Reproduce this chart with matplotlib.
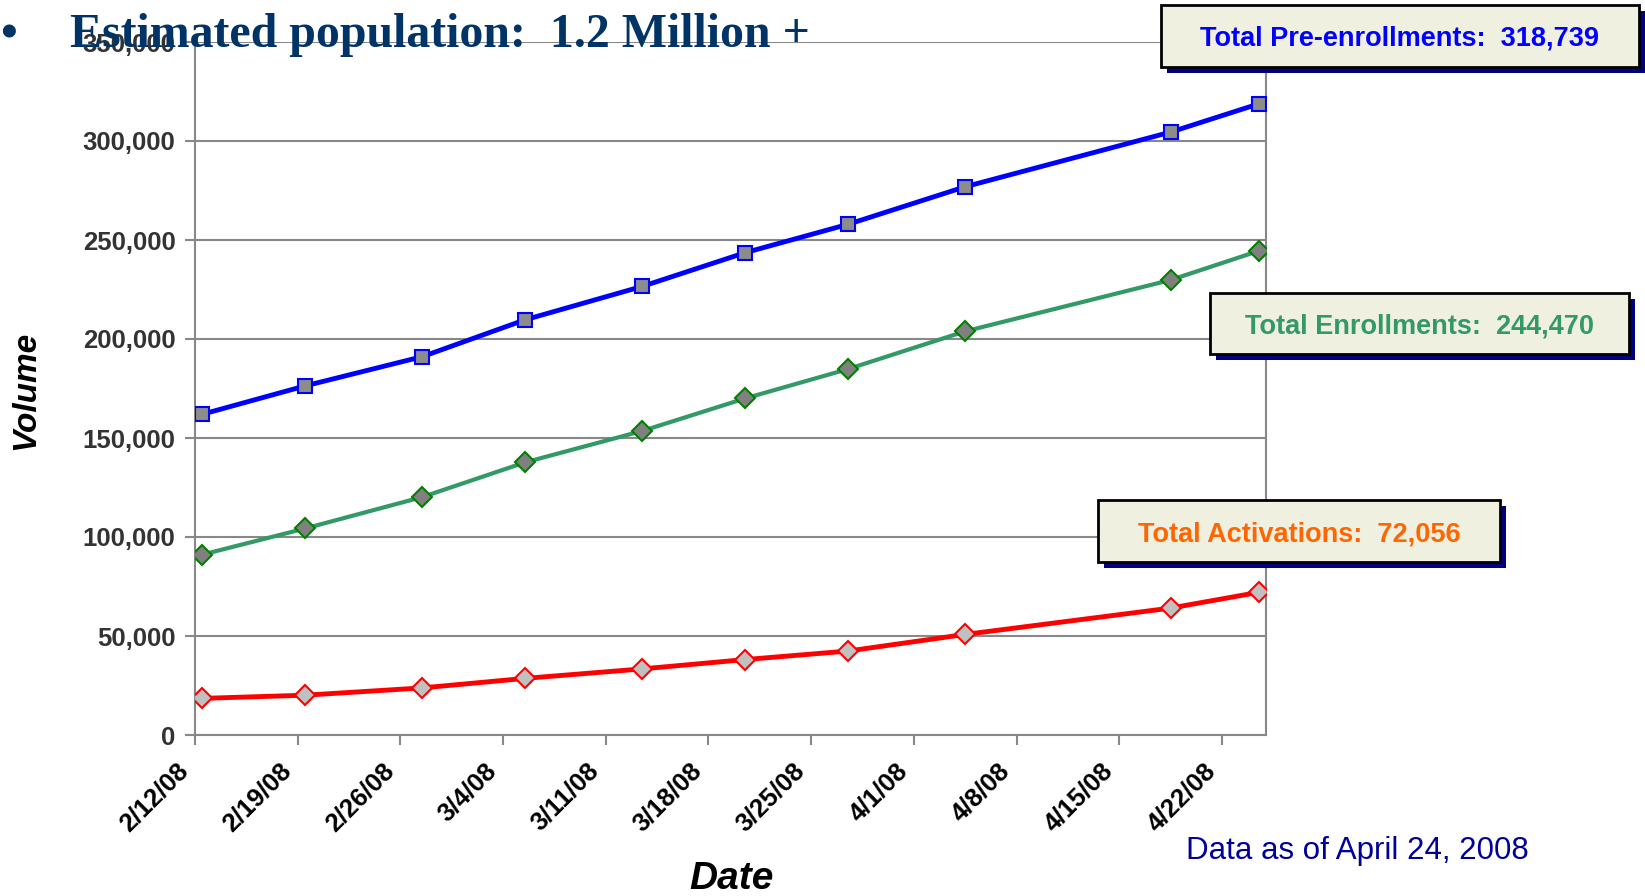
import numpy as np
import matplotlib
matplotlib.use("Agg")
import matplotlib.pyplot as plt
from matplotlib.patches import Rectangle
from matplotlib.ticker import FuncFormatter
from matplotlib.transforms import ScaledTranslation, blended_transform_factory

# data
dates = ["2008-02-12", "2008-02-19", "2008-02-27", "2008-03-05", "2008-03-13",
         "2008-03-20", "2008-03-27", "2008-04-04", "2008-04-18", "2008-04-24"]
pre_enroll = [162000, 176300, 191100, 209700, 226600, 243600, 257900, 276900, 304500, 318739]
enroll = [91100, 104300, 120200, 137700, 153600, 170000, 184800, 203900, 229800, 244470]
activ = [18500, 20100, 23800, 28600, 33400, 38100, 42400, 50800, 64100, 72056]

tick_dates = ["2008-02-12", "2008-02-19", "2008-02-26", "2008-03-04", "2008-03-11",
              "2008-03-18", "2008-03-25", "2008-04-01", "2008-04-08", "2008-04-15",
              "2008-04-22"]
tick_labels = ["2/12/08", "2/19/08", "2/26/08", "3/4/08", "3/11/08", "3/18/08",
               "3/25/08", "4/1/08", "4/8/08", "4/15/08", "4/22/08"]

W, H = 1645, 896
plt.rcParams['font.family'] = ['Liberation Sans', 'DejaVu Sans']

fig = plt.figure(figsize=(W / 100, H / 100), dpi=100)


def fx(px):
    return px / W


def fy(py):
    return 1 - py / H


ax = fig.add_axes([fx(195), fy(735), fx(1266) - fx(195), fy(42) - fy(735)])

# excel date axis puts points in the middle of the day
x = np.array(dates, dtype="datetime64[h]") + np.timedelta64(12, "h")
x = x.astype("datetime64[ms]").astype(object)

ax.plot(x, pre_enroll, color="#0000FF", lw=3.5, marker="s", ms=10,
        mfc="#8C8C8C", mec="#0000FF", mew=1.5, zorder=4)
ax.plot(x, enroll, color="#339966", lw=3, marker="D", ms=10,
        mfc="#808080", mec="#008000", mew=1.5, zorder=4)
ax.plot(x, activ, color="#FF0000", lw=3.5, marker="D", ms=10,
        mfc="#C0C0C0", mec="#FF0000", mew=1.5, zorder=4)

ticks = np.array(tick_dates, dtype="datetime64[ms]").astype(object)
ax.set_xticks(ticks)
ax.set_xticklabels([])
ax.set_xlim(np.datetime64("2008-02-12").astype(object),
            np.datetime64("2008-04-25").astype(object))

# rotated date labels, drawn by hand so they sit just left of each tick
lab_tr = blended_transform_factory(ax.transData, ax.transAxes) + \
    ScaledTranslation(-0.105, -0.32, fig.dpi_scale_trans)
for d, lbl in zip(ticks, tick_labels):
    ax.text(d, 0, lbl, transform=lab_tr, rotation=45, ha="right", va="center",
            rotation_mode="anchor", fontsize=18.5, fontweight="bold",
            color="black", clip_on=False)

ax.set_ylim(0, 350000)
ax.set_yticks(np.arange(0, 350001, 50000))
ax.yaxis.set_major_formatter(FuncFormatter(lambda v, p: f"{int(v):,}"))
for lb in ax.get_yticklabels():
    lb.set_fontsize(18.5)
    lb.set_fontweight("bold")
    lb.set_color("#333333")

ax.grid(axis="y", color="#888888", lw=1.5)
ax.set_axisbelow(True)
for s in ax.spines.values():
    s.set_color("#888888")
    s.set_linewidth(1.5)
ax.spines["top"].set_visible(False)
ax.tick_params(axis="both", length=7, width=1.5, color="#888888", direction="out")
ax.tick_params(axis="y", pad=7)

fig.text(fx(26), fy(390), "Volume", rotation=90, fontsize=24, fontweight="bold",
         fontstyle="italic", ha="center", va="center")
fig.text(fx(731), fy(879), "Date", fontsize=28, fontweight="bold",
         fontstyle="italic", ha="center", va="center")

# heading from the slide
fig.text(fx(0), fy(47), "\u2022", fontsize=34.5, fontweight="bold", color="#003366",
         family="Liberation Serif", va="baseline", zorder=10)
fig.text(fx(70), fy(47), "Estimated population:  1.2 Million +", fontsize=34.5,
         fontweight="bold", color="#003366", family="Liberation Serif",
         va="baseline", zorder=10)

# callout boxes with shadow
boxes = [
    ((1161, 5, 1639, 67), "Total Pre-enrollments:  318,739", "#0000FF"),
    ((1210, 293, 1629, 354), "Total Enrollments:  244,470", "#339966"),
    ((1098, 500, 1500, 562), "Total Activations:  72,056", "#FF6600"),
]
for (x0, y0, x1, y1), txt, col in boxes:
    sh = Rectangle((fx(x0 + 6), fy(y1 + 6)), fx(x1) - fx(x0), fy(y0) - fy(y1),
                   transform=fig.transFigure, facecolor="#000080",
                   edgecolor="none", zorder=6)
    bx = Rectangle((fx(x0), fy(y1)), fx(x1) - fx(x0), fy(y0) - fy(y1),
                   transform=fig.transFigure, facecolor="#F0F0E1",
                   edgecolor="black", lw=2, zorder=7)
    fig.add_artist(sh)
    fig.add_artist(bx)
    fig.text(fx((x0 + x1) / 2), fy((y0 + y1) / 2), txt, fontsize=19.5,
             fontweight="bold", color=col, ha="center", va="center_baseline",
             zorder=8)

fig.text(fx(1357), fy(851), "Data as of April 24, 2008", fontsize=22.5,
         color="#000099", ha="center", va="center")

fig.savefig("out.png", dpi=100)
